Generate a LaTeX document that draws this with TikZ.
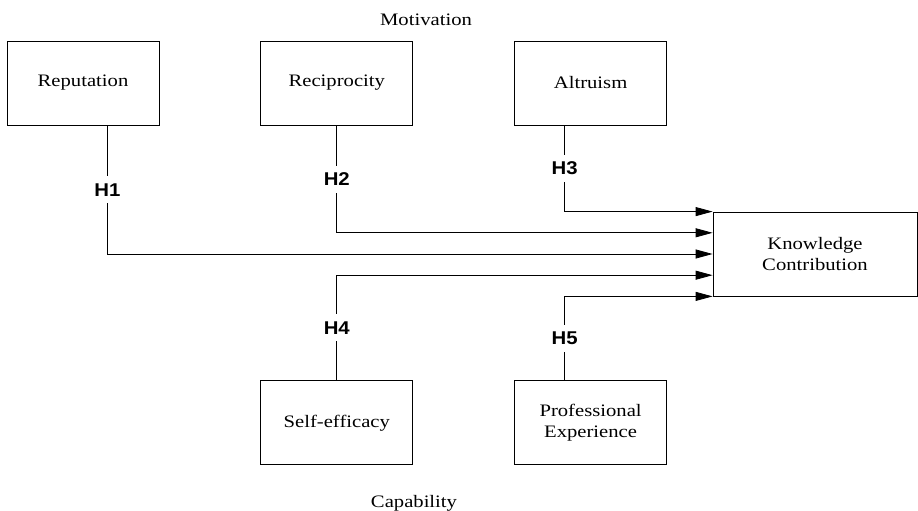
\documentclass[tikz,border=0pt]{standalone}
\usepackage{fontspec}
\setmainfont{Liberation Serif}[FakeStretch=1.18]
\newfontfamily\hfont{Liberation Sans}[FakeStretch=1.1]
\usetikzlibrary{positioning,calc,arrows.meta}

\begin{document}
\begin{tikzpicture}[x=1bp,y=-1bp,node distance=101bp,
  font=\fontsize{17.5bp}{20.5bp}\selectfont,
  factor/.style={draw,rectangle,line width=0.8bp,minimum width=152bp,minimum height=84bp,align=center,inner sep=0pt},
  hyp/.style={fill=white,inner sep=2bp,minimum height=27bp,font=\hfont\bfseries\fontsize{18.5bp}{20bp}\selectfont},
  link/.style={line width=0.8bp,-{Triangle[length=17bp,width=9bp]}}]
  \useasboundingbox (0,0) rectangle (918,511);
  % motivation factors
  \node (rep) [factor] at (83,83) {Reputation};
  \node (rec) [factor,right=of rep] {Reciprocity};
  \node (alt) [factor,right=of rec] {Altruism};
  % capability factors
  \node (self) [factor,below=255bp of rec] {Self-efficacy};
  \node (prof) [factor,below=255bp of alt] {Professional\\Experience};
  % outcome
  \node (kc) [factor,minimum width=204bp] at (815,254) {Knowledge\\Contribution};
  \node (mot) [anchor=base] at (426,26) {Motivation};
  \node (cap) [anchor=base] at (414,507) {Capability};
  \draw[link] ($(alt.south west)!0.33!(alt.south east)$) |- node[hyp,pos=0.25] {H3} (kc.north west);
  \draw[link] (rec.south) |- node[hyp,pos=0.25] {H2} ($(kc.north west)!0.25!(kc.south west)$);
  \draw[link] ($(rep.south west)!0.66!(rep.south east)$) |- node[hyp,pos=0.25] {H1} (kc.west);
  \draw[link] (self.north) |- node[hyp,pos=0.25] {H4} ($(kc.north west)!0.75!(kc.south west)$);
  \draw[link] ($(prof.north west)!0.33!(prof.north east)$) |- node[hyp,pos=0.25] {H5} (kc.south west);
\end{tikzpicture}
\end{document}
